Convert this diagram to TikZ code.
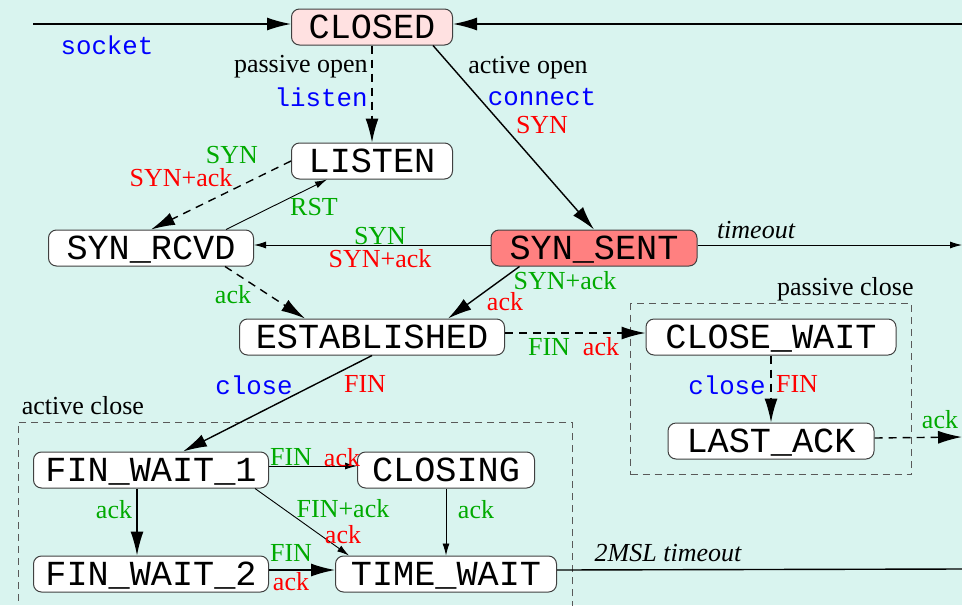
\documentclass[tikz,border=0pt]{standalone}
\usepackage{fontspec}
\setmainfont{Liberation Serif}
\setmonofont{Liberation Mono}
\usepackage{tikz}
\usetikzlibrary{arrows.meta,positioning,fit,calc}
\definecolor{bgteal}{RGB}{217,244,239}
\definecolor{closedpink}{RGB}{255,225,225}
\definecolor{sentred}{RGB}{255,128,128}
\definecolor{segred}{RGB}{255,0,0}
\definecolor{ackgreen}{RGB}{0,170,0}
\definecolor{callblue}{RGB}{0,0,255}
\tikzset{
  statebox/.style={rectangle,rounded corners=4pt,draw=black!75,line width=0.5pt,fill=white,
    font=\ttfamily\fontsize{17.6}{20}\selectfont,minimum height=18pt,inner sep=0pt,
    text height=13.6pt,text depth=2pt},
  lbl/.style={inner sep=0pt,font=\fontsize{13}{15}\selectfont},
  sendlbl/.style={lbl,text=segred},
  recvlbl/.style={lbl,text=ackgreen},
  calllbl/.style={inner sep=0pt,text=callblue,font=\ttfamily\fontsize{12.9}{15}\selectfont},
  evlbl/.style={inner sep=0pt,font=\fontsize{13}{15}\selectfont\itshape},
  arr/.style={-{Latex[length=12pt,width=6.5pt]},line width=0.7pt},
  thinarr/.style={-{Latex[length=6pt,width=3.5pt]},line width=0.45pt},
  dasharr/.style={arr,dash pattern=on 4pt off 3pt},
  groupbox/.style={rectangle,draw=black!65,line width=0.5pt,dash pattern=on 3.5pt off 2.5pt,inner sep=7.5pt}
}

\begin{document}
\begin{tikzpicture}[x=0.5pt,y=-0.5pt]
  \fill[bgteal] (0,0) rectangle (962,605);
  \useasboundingbox (0,0) rectangle (962,605);

  \node[statebox,fill=closedpink,minimum width=80.5pt] (closed) at (372,27) {CLOSED};
  \node[statebox,minimum width=80.5pt,below=48.5pt of closed] (listen) {LISTEN};
  \node[statebox,minimum width=102.5pt] (synrcvd) at (151,248) {SYN\_RCVD};
  \node[statebox,fill=sentred,minimum width=103pt] (synsent) at (594,248) {SYN\_SENT};
  \node[statebox,minimum width=132.5pt] (estab) at (372,337) {ESTABLISHED};
  \node[statebox,minimum width=125pt] (closewait) at (771,337) {CLOSE\_WAIT};
  \node[statebox,minimum width=103pt,below=33.5pt of closewait] (lastack) {LAST\_ACK};
  \node[statebox,minimum width=117.5pt] (finwait1) at (151,470) {FIN\_WAIT\_1};
  \node[statebox,minimum width=88.5pt] (closing) at (446,470) {CLOSING};
  \node[statebox,minimum width=117.5pt,below=33.5pt of finwait1] (finwait2) {FIN\_WAIT\_2};
  \node[statebox,minimum width=110.5pt,below=33.5pt of closing] (timewait) {TIME\_WAIT};

  \coordinate (sockin) at (33,24);
  \coordinate (fromright) at (962,24);
  \coordinate (timeoutend) at (962,245);
  \coordinate (lastackend) at (962,437);
  \coordinate (mslend) at (962,569);
  \coordinate (achead) at (151,437);
  \coordinate (acfoot) at (151,615);

  \node[groupbox,fit=(closewait)(lastack),
        label={[lbl,anchor=south east,xshift=1pt,yshift=1pt]north east:passive close}] (passivebox) {};
  \node[groupbox,fit=(finwait1)(timewait)(achead)(acfoot),
        label={[lbl,anchor=south west,xshift=2pt,yshift=3pt]north west:active close}] (activebox) {};

  \draw[arr] (sockin) -- (sockin -| closed.west);
  \draw[arr] (fromright) -- (fromright -| closed.east);
  \draw[dasharr] (closed.south) -- (listen.north);
  \draw[arr] ([xshift=-10pt]closed.south east) -- (synsent.north);
  \draw[dasharr] (listen.west) -- (synrcvd.north);
  \draw[thinarr] ([xshift=-14pt]synrcvd.north east) -- ([xshift=18pt]listen.south west);
  \draw[thinarr] ([yshift=1.5pt]synsent.west) -- ([yshift=1.5pt]synrcvd.east);
  \draw[dasharr] ([xshift=-14.5pt]synrcvd.south east) -- ([xshift=-33.5pt]estab.north);
  \draw[arr] ([xshift=14.5pt]synsent.south west) -- ([xshift=38pt]estab.north);
  \draw[thinarr] ([yshift=1.5pt]synsent.east) -- (timeoutend);
  \draw[dasharr] ([yshift=2pt]estab.east) -- ([yshift=2pt]closewait.west);
  \draw[dasharr] (closewait.south) -- (lastack.north);
  \draw[dasharr] ([yshift=1.5pt]lastack.east) -- (lastackend);
  \draw[arr] (estab.south) -- ([xshift=16pt]finwait1.north);
  \draw[thinarr] ([yshift=2pt]finwait1.east) -- ([yshift=2pt]closing.west);
  \draw[arr] ([xshift=-7pt]finwait1.south) -- ([xshift=-7pt]finwait2.north);
  \draw[thinarr] ([xshift=-7pt]finwait1.south east) -- ([xshift=7pt]timewait.north west);
  \draw[thinarr] (closing.south) -- (timewait.north);
  \draw[arr] ([yshift=2pt]finwait2.east) -- ([yshift=2pt]timewait.west);
  \draw[line width=0.7pt] ([yshift=2pt]timewait.east) -- (mslend);

  \node[calllbl] (lsocket) at (107,45) {socket};
  \node[lbl,anchor=east] (lpassive) at (368,67) {passive open};
  \node[calllbl,anchor=east] (llisten) at (368,97) {listen};
  \node[lbl] (lactive) at (528,68) {active open};
  \node[calllbl] (lconnect) at (542,97) {connect};
  \node[sendlbl] (lsynconn) at (542,125) {SYN};
  \node[recvlbl] (lsynlis) at (232,155) {SYN};
  \node[sendlbl] (lsynacklis) at (181,178) {SYN+ack};
  \node[recvlbl] (lrst) at (314,207) {RST};
  \node[recvlbl] (lsynsim) at (380,236) {SYN};
  \node[sendlbl] (lsynacksim) at (380,259) {SYN+ack};
  \node[recvlbl] (lackrcvd) at (233,295) {ack};
  \node[recvlbl] (lsynacksent) at (565,281) {SYN+ack};
  \node[sendlbl] (lacksent) at (505,302) {ack};
  \node[evlbl] (ltimeout) at (756,230) {timeout};
  \node[recvlbl] (lfinest) at (549,347) {FIN};
  \node[sendlbl] (lackest) at (601,347) {ack};
  \node[calllbl] (lclosecw) at (727,385) {close};
  \node[sendlbl] (lfincw) at (797,384) {FIN};
  \node[recvlbl] (lacklast) at (940,420) {ack};
  \node[calllbl] (lcloseest) at (254,385) {close};
  \node[sendlbl] (lfinact) at (365,384) {FIN};
  \node[recvlbl] (lfinfw1) at (291,457) {FIN};
  \node[sendlbl] (lackfw1) at (342,458) {ack};
  \node[recvlbl] (lackfw2) at (114,510) {ack};
  \node[recvlbl] (lfinackfw1) at (343,509) {FIN+ack};
  \node[sendlbl] (lackfa) at (343,535) {ack};
  \node[recvlbl] (lackcl) at (476,510) {ack};
  \node[recvlbl] (lfinfw2) at (291,553) {FIN};
  \node[sendlbl] (lackfw2s) at (291,582) {ack};
  \node[evlbl] (lmsl) at (668,553) {2MSL timeout};
\end{tikzpicture}
\end{document}
